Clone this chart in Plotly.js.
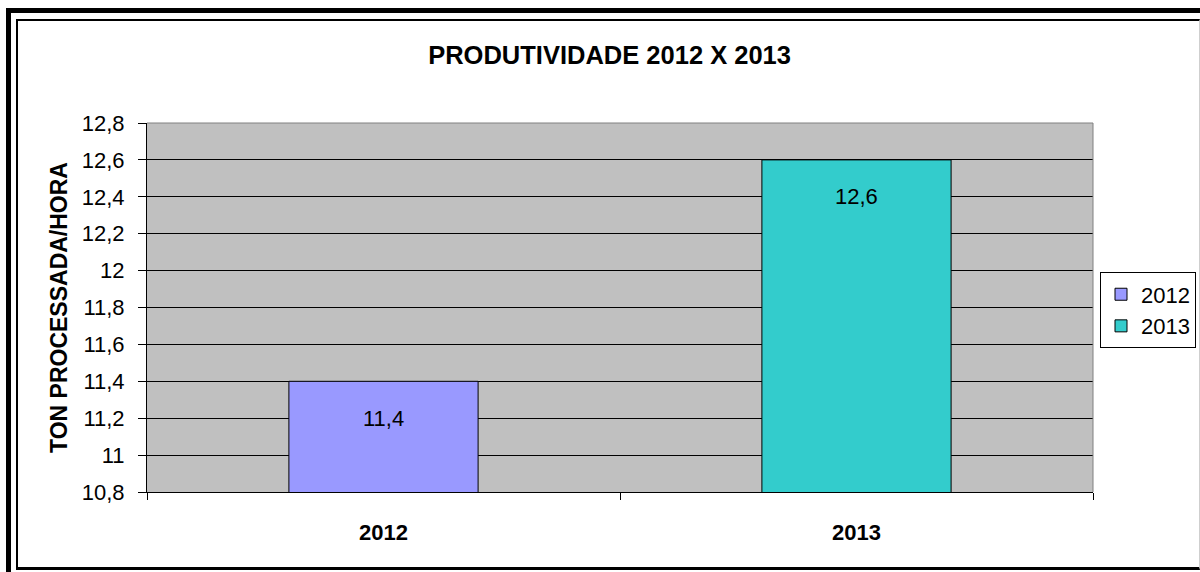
<!DOCTYPE html>
<html>
<head>
<meta charset="utf-8">
<script src="https://cdn.plot.ly/plotly-3.0.1.min.js"></script>
<style>
  html, body { margin: 0; padding: 0; background: #fff; }
  #wrap { position: relative; width: 1200px; height: 572px; overflow: hidden; }
  #chart { position: absolute; left: 0; top: 0; width: 1200px; height: 572px; }
  .frame { position: absolute; pointer-events: none; box-sizing: border-box; }
  #outer { left: 6px; top: 8px; width: 1300px; height: 700px; border-left: 5px solid #000; border-top: 5px solid #000; }
  #inner { left: 16px; top: 19px; width: 1184px; height: 551px; border-left: 2px solid #000; border-top: 2px solid #000; border-bottom: 3px solid #000; border-right: 1px solid #cfcfcf; }
</style>
</head>
<body>
<div id="wrap">
  <div id="chart"></div>
  <div id="outer" class="frame"></div>
  <div id="inner" class="frame"></div>
</div>
<script>
const categories = ['2012', '2013'];
const seriesNames = ['2012', '2013'];
const values = [11.4, 12.6];
const labels = ['11,4', '12,6'];
const colors = ['#9999FF', '#33CCCC'];

const FONT = 'Liberation Sans, Arial, sans-serif';

const traces = categories.map((c, i) => ({
  type: 'bar',
  name: seriesNames[i],
  x: [c],
  y: [values[i]],
  width: 0.4,
  marker: { color: colors[i], line: { color: '#000', width: 1 } },
  hoverinfo: 'skip'
}));

// annotation x given as category index (numeric-looking category names would be read as indices)
const annotations = categories.map((c, i) => ({
  x: categories.indexOf(c), y: values[i], xref: 'x', yref: 'y',
  text: labels[i], showarrow: false,
  yanchor: 'middle', yshift: -37,
  font: { family: FONT, size: 22, color: '#000' }
}));

const shapes = [
  { type: 'line', xref: 'paper', yref: 'paper', x0: 0, x1: 1, y0: 1, y1: 1, line: { color: '#808080', width: 1 }, layer: 'above' },
  { type: 'line', xref: 'paper', yref: 'paper', x0: 1, x1: 1, y0: 0, y1: 1, line: { color: '#808080', width: 1 }, layer: 'above' }
];

const layout = {
  width: 1200, height: 572,
  margin: { l: 147, r: 107, t: 123, b: 80, pad: 0, autoexpand: false },
  paper_bgcolor: '#ffffff',
  plot_bgcolor: '#C0C0C0',
  separators: ',.',
  barmode: 'overlay',
  showlegend: true,
  title: {
    text: '<b>PRODUTIVIDADE 2012 X 2013</b>',
    font: { family: FONT, size: 25.5, color: '#000' },
    x: 0.489, xref: 'paper', xanchor: 'center',
    y: 0.904, yref: 'container', yanchor: 'middle'
  },
  xaxis: {
    type: 'category',
    categoryorder: 'array', categoryarray: categories,
    range: [-0.5, categories.length - 0.5],
    autorange: false,
    tickson: 'boundaries',
    ticks: 'outside', ticklen: 7, tickcolor: '#000', tickwidth: 1,
    showline: true, linecolor: '#000', linewidth: 1,
    showgrid: false, zeroline: false,
    tickangle: 0,
    tickfont: { family: FONT, size: 22, color: '#000', weight: 'bold' },
    ticklabelstandoff: 21,
    fixedrange: true
  },
  yaxis: {
    range: [10.8, 12.8],
    autorange: false,
    tick0: 10.8, dtick: 0.2,
    ticks: 'outside', ticklen: 8, tickcolor: '#000', tickwidth: 1,
    showline: true, linecolor: '#000', linewidth: 1,
    showgrid: true, gridcolor: '#000', gridwidth: 1,
    zeroline: false,
    tickfont: { family: FONT, size: 22, color: '#000' },
    ticklabelstandoff: 9,
    title: {
      text: '<b>TON PROCESSADA/HORA</b>',
      font: { family: FONT, size: 23, color: '#000' },
      standoff: 7
    },
    fixedrange: true
  },
  legend: {
    x: 1.0074, y: 0.595, xanchor: 'left', yanchor: 'top',
    bgcolor: '#fff', bordercolor: '#000', borderwidth: 1,
    font: { family: FONT, size: 22, color: '#000' },
    itemwidth: 30,
    tracegroupgap: 0
  },
  annotations: annotations,
  shapes: shapes
};

Plotly.newPlot('chart', traces, layout, { displayModeBar: false, staticPlot: true });
</script>
</body>
</html>
